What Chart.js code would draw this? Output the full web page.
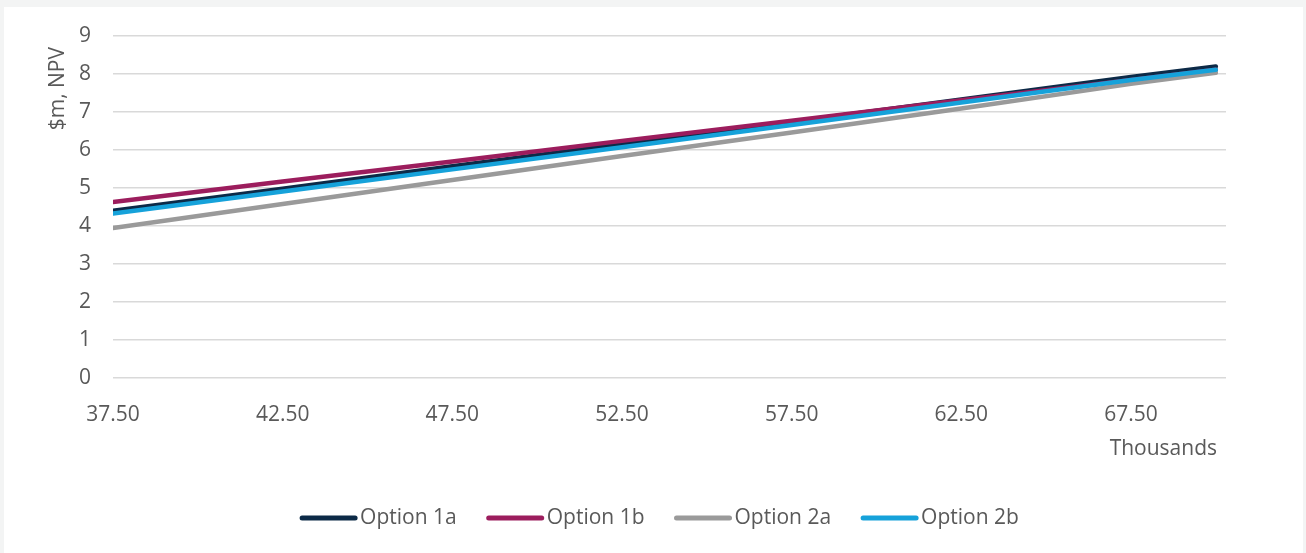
<!DOCTYPE html>
<html>
<head>
<meta charset="utf-8">
<script src="https://cdn.jsdelivr.net/npm/chart.js@4/dist/chart.umd.min.js"></script>
<style>
  html, body { margin: 0; padding: 0; width: 1306px; height: 553px; overflow: hidden; background: #f3f4f4; }
  #frame { position: absolute; left: 4px; top: 7px; width: 1299px; height: 546px; background: #ffffff; }
  canvas { display: block; }
</style>
</head>
<body>
<div id="frame"><canvas id="npv" width="1299" height="546"></canvas></div>
<script>
// Volume in thousands, NPV in $m
const xValues   = [37.5, 42.5, 47.5, 52.5, 57.5, 62.5, 67.5, 70.0];
const option1a  = [4.40, 4.98, 5.57, 6.15, 6.74, 7.33, 7.92, 8.20];
const option1b  = [4.63, 5.17, 5.70, 6.24, 6.77, 7.31, 7.84, 8.11];
const option2a  = [3.95, 4.58, 5.21, 5.84, 6.46, 7.09, 7.74, 8.03];
const option2b  = [4.33, 4.91, 5.49, 6.07, 6.66, 7.25, 7.84, 8.11];
const seriesNames = ['Option 1a', 'Option 1b', 'Option 2a', 'Option 2b'];
const xTickLabels = ['37.50', '42.50', '47.50', '52.50', '57.50', '62.50', '67.50'];
const yTickLabels = ['0', '1', '2', '3', '4', '5', '6', '7', '8', '9'];
const yTitle = '$m, NPV';
const xTitle = 'Thousands';

const colors = ['#0c2a47', '#9c1d5d', '#9a9a9a', '#16a2da'];
const FONT = "'Open Sans', 'Noto Sans', sans-serif";
const TEXT = '#595959';
const FONT_SIZE = 21;

const seriesValues = [option1a, option1b, option2a, option2b];
const datasets = seriesValues.map((vals, i) => ({
  label: seriesNames[i],
  data: xValues.map((x, j) => ({ x: x, y: vals[j] })),
  borderColor: colors[i],
  backgroundColor: colors[i],
  borderWidth: 4.5,
  borderCapStyle: 'round',
  borderJoinStyle: 'round',
  pointRadius: 0,
  tension: 0,
  fill: false,
  order: seriesValues.length - i
}));

// Axis titles and the legend row are painted here
const decorations = {
  id: 'decorations',
  afterDraw(chart) {
    const ctx = chart.ctx;
    ctx.save();
    ctx.fillStyle = TEXT;
    ctx.font = FONT_SIZE + 'px ' + FONT;

    // vertical axis title
    ctx.save();
    ctx.translate(54, 40);
    ctx.rotate(-Math.PI / 2);
    ctx.textAlign = 'right';
    ctx.textBaseline = 'middle';
    ctx.fillText(yTitle, 0, 0);
    ctx.restore();

    // horizontal axis units
    ctx.textAlign = 'right';
    ctx.textBaseline = 'middle';
    ctx.fillText(xTitle, 1213, 442);

    // legend
    const sample = 57, gap = 3, spacing = 30, legendY = 511;
    const widths = seriesNames.map(n => ctx.measureText(n).width);
    const total = widths.reduce((a, w) => a + sample + gap + w, 0) + spacing * (seriesNames.length - 1);
    let x = (chart.width - total) / 2 + 6;
    ctx.textAlign = 'left';
    seriesNames.forEach((name, i) => {
      ctx.strokeStyle = colors[i];
      ctx.lineWidth = 5;
      ctx.lineCap = 'round';
      ctx.beginPath();
      ctx.moveTo(x + 2, legendY);
      ctx.lineTo(x + sample - 2, legendY);
      ctx.stroke();
      ctx.fillText(name, x + sample + gap, legendY);
      x += sample + gap + widths[i] + spacing;
    });
    ctx.restore();
  }
};

new Chart(document.getElementById('npv'), {
  type: 'line',
  data: { datasets: datasets },
  plugins: [decorations],
  options: {
    responsive: false,
    animation: false,
    devicePixelRatio: 1,
    layout: { padding: { left: 0, right: 77, top: 29, bottom: 0 } },
    plugins: { legend: { display: false }, tooltip: { enabled: false } },
    scales: {
      x: {
        type: 'linear',
        min: 37.5,
        max: 70.3,
        afterFit(scale) {
          scale.height = 175;
          scale.paddingLeft = 0;
          scale.paddingRight = 0;
        },
        afterBuildTicks(scale) {
          scale.ticks = xTickLabels.map(t => ({ value: parseFloat(t) }));
        },
        grid: { display: false, drawTicks: false },
        border: { display: false },
        ticks: {
          padding: 24,
          color: TEXT,
          font: { family: FONT, size: FONT_SIZE },
          maxRotation: 0,
          autoSkip: false,
          callback: (v) => Number(v).toFixed(2)
        }
      },
      y: {
        min: 0,
        max: 9,
        afterFit(scale) {
          scale.width = 109;
          scale.paddingTop = 0;
          scale.paddingBottom = 0;
        },
        afterBuildTicks(scale) {
          scale.ticks = yTickLabels.map(t => ({ value: parseFloat(t) }));
        },
        grid: { color: '#d9d9d9', lineWidth: 1.5, drawTicks: false },
        border: { display: false },
        ticks: {
          padding: 22,
          color: TEXT,
          font: { family: FONT, size: FONT_SIZE }
        }
      }
    }
  }
});
</script>
</body>
</html>
